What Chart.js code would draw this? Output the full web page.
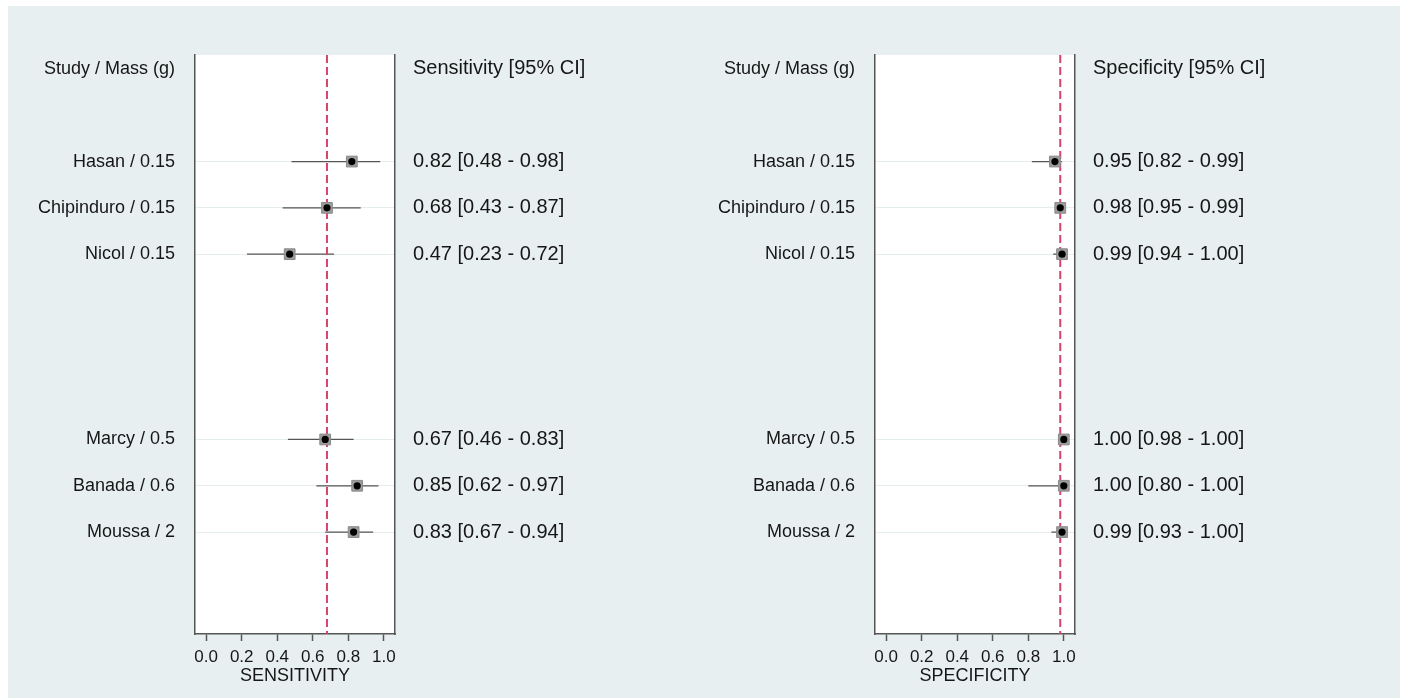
<!DOCTYPE html>
<html>
<head>
<meta charset="utf-8">
<script src="https://cdn.jsdelivr.net/npm/chart.js@4"></script>
<style>
  html, body { margin: 0; padding: 0; background: #ffffff; }
  #page { position: relative; width: 1406px; height: 698px; overflow: hidden; }
  #panelBg { position: absolute; left: 8px; top: 6px; width: 1392px; height: 692px; background: #e8eff1; }
  canvas { position: absolute; top: 0; }
  #sens { left: 0px; }
  #spec { left: 680px; }
</style>
</head>
<body>
<div id="page">
  <div id="panelBg"></div>
  <canvas id="sens" width="700" height="698"></canvas>
  <canvas id="spec" width="726" height="698"></canvas>
</div>
<script>
// Study rows
const studies = ['Hasan', 'Chipinduro', 'Nicol', 'Marcy', 'Banada', 'Moussa'];
const masses = ['0.15', '0.15', '0.15', '0.5', '0.6', '2'];
const rowPos = [2, 3, 4, 8, 9, 10];
const headerRow = 0;

// Sensitivity estimates with 95% CI
const sensEst = [0.82, 0.68, 0.47, 0.67, 0.85, 0.83];
const sensLo  = [0.48, 0.43, 0.23, 0.46, 0.62, 0.67];
const sensHi  = [0.98, 0.87, 0.72, 0.83, 0.97, 0.94];
const pooledSens = 0.68;

// Specificity estimates with 95% CI
const specEst = [0.95, 0.98, 0.99, 1.00, 1.00, 0.99];
const specLo  = [0.82, 0.95, 0.94, 0.98, 0.80, 0.93];
const specHi  = [0.99, 0.99, 1.00, 1.00, 1.00, 1.00];
const pooledSpec = 0.98;

// Axis ticks and ranges
const xTicks = [0.0, 0.2, 0.4, 0.6, 0.8, 1.0];
const xMin = -0.063, xMax = 1.063;
const yMin = -0.3, yMax = 12.2;

const FONT = "'Liberation Sans', Arial, sans-serif";
const TEXT = '#161616';
const FRAME = '#555555';

// White plotting region inside the frame
const plotBackground = {
  id: 'plotBackground',
  beforeDraw(chart) {
    const { ctx, chartArea: a } = chart;
    ctx.save();
    ctx.fillStyle = '#ffffff';
    ctx.fillRect(a.left, a.top, a.right - a.left, a.bottom - a.top);
    ctx.restore();
  }
};

function makeChart(canvasId, est, lo, hi, pooled, valueHeader, axisTitle, rightWidth) {
  const leftLabels = ['Study / Mass (g)', ...studies.map((s, i) => s + ' / ' + masses[i])];
  const rightLabels = [valueHeader, ...est.map((v, i) =>
    v.toFixed(2) + ' [' + lo[i].toFixed(2) + ' - ' + hi[i].toFixed(2) + ']')];
  const tickRows = [headerRow, ...rowPos];

  // confidence interval segments, separated by gaps
  const ciData = [];
  est.forEach((v, i) => {
    ciData.push({ x: lo[i], y: rowPos[i] });
    ciData.push({ x: hi[i], y: rowPos[i] });
    ciData.push({ x: null, y: null });
  });
  const pts = est.map((v, i) => ({ x: v, y: rowPos[i] }));

  return new Chart(document.getElementById(canvasId), {
    type: 'scatter',
    data: {
      datasets: [
        { label: 'estimate', data: pts, pointStyle: 'circle', pointRadius: 3.6,
          backgroundColor: '#000000', borderColor: '#000000', borderWidth: 0, order: 0 },
        { label: 'weight', data: pts, pointStyle: 'rect', pointRadius: 7.6,
          backgroundColor: '#9c9c9c', borderColor: '#8a8a8a', borderWidth: 1, order: 1 },
        { label: 'pooled', data: [{ x: pooled, y: yMin }, { x: pooled, y: yMax }],
          showLine: true, pointRadius: 0, borderColor: '#d8436c', borderWidth: 2,
          borderDash: [8, 4], order: 2 },
        { label: 'ci', data: ciData, showLine: true, spanGaps: false, pointRadius: 0,
          borderColor: '#555555', borderWidth: 1.2, order: 3 }
      ]
    },
    options: {
      responsive: false,
      animation: false,
      events: [],
      layout: { padding: { top: 55, bottom: 0, left: 0, right: 0 } },
      plugins: { legend: { display: false }, tooltip: { enabled: false } },
      scales: {
        x: {
          type: 'linear', min: xMin, max: xMax,
          afterBuildTicks: s => { s.ticks = xTicks.map(v => ({ value: v })); },
          afterFit: s => { s.height = 64; },
          ticks: { callback: v => Number(v).toFixed(1), font: { size: 17, family: FONT },
                   color: TEXT, padding: 6, maxRotation: 0, autoSkip: false },
          grid: { drawOnChartArea: false, drawTicks: true, tickLength: 7,
                  tickColor: FRAME, tickWidth: 1.5 },
          border: { display: true, color: FRAME, width: 1.5 },
          title: { display: true, text: axisTitle, color: TEXT,
                   font: { size: 18, family: FONT }, padding: { top: 0, bottom: 11 } }
        },
        y: {
          type: 'linear', position: 'left', reverse: true, min: yMin, max: yMax,
          afterBuildTicks: s => { s.ticks = tickRows.map(v => ({ value: v })); },
          afterFit: s => { s.width = 195; },
          ticks: { callback: (v, i) => leftLabels[i], font: { size: 18, family: FONT },
                   color: TEXT, padding: 20, autoSkip: false },
          grid: { drawTicks: false, lineWidth: 1,
                  color: c => (c.tick && c.tick.value === headerRow) ? 'rgba(0,0,0,0)' : '#e5eded' },
          border: { display: true, color: FRAME, width: 1.5 }
        },
        y2: {
          type: 'linear', position: 'right', reverse: true, min: yMin, max: yMax,
          afterBuildTicks: s => { s.ticks = tickRows.map(v => ({ value: v })); },
          afterFit: s => { s.width = rightWidth; },
          ticks: { callback: (v, i) => rightLabels[i], font: { size: 20, family: FONT },
                   color: TEXT, padding: 18, autoSkip: false },
          grid: { display: false, drawTicks: false },
          border: { display: true, color: FRAME, width: 1.5 }
        }
      }
    },
    plugins: [plotBackground]
  });
}

makeChart('sens', sensEst, sensLo, sensHi, pooledSens, 'Sensitivity [95% CI]', 'SENSITIVITY', 305);
makeChart('spec', specEst, specLo, specHi, pooledSpec, 'Specificity [95% CI]', 'SPECIFICITY', 331);
</script>
</body>
</html>
